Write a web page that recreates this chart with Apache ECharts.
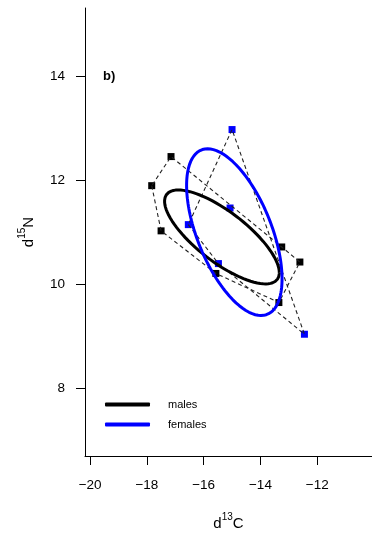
<!DOCTYPE html>
<html>
<head>
<meta charset="utf-8">
<script src="https://cdn.jsdelivr.net/npm/echarts@6/dist/echarts.min.js"></script>
<style>
html,body{margin:0;padding:0;background:#fff;}
#chart{width:372px;height:533px;}
</style>
</head>
<body>
<div id="chart"></div>
<script>
// ---- data ----
var groupNames = ['males', 'females'];
var groupColors = ['#000000', '#0000ff'];
var malesX = [-17.83, -17.15, -17.50, -13.25, -12.61, -15.57, -13.35];
var malesY = [11.90, 12.46, 11.03, 10.72, 10.43, 10.21, 9.65];
var femalesX = [-15.00, -16.54, -15.07, -15.48, -12.45];
var femalesY = [12.98, 11.15, 11.47, 10.40, 9.04];
// standard ellipse parameters (centre, half extent along x and y, correlation)
var ellCX = [-15.356, -14.92];
var ellCY = [10.913, 11.005];
var ellSX = [2.021, 1.681];
var ellSY = [0.904, 1.605];
var ellRho = [-0.76, -0.56];
var xTicks = [-20, -18, -16, -14, -12];
var yTicks = [8, 10, 12, 14];
var panelLabel = 'b)';

// ---- helpers ----
function pairs(xs, ys) { return xs.map(function (x, i) { return [x, ys[i]]; }); }
function hull(pts) {
  var p = pts.slice().sort(function (a, b) { return a[0] - b[0] || a[1] - b[1]; });
  function cross(o, a, b) { return (a[0] - o[0]) * (b[1] - o[1]) - (a[1] - o[1]) * (b[0] - o[0]); }
  var lower = [], upper = [];
  p.forEach(function (q) {
    while (lower.length >= 2 && cross(lower[lower.length - 2], lower[lower.length - 1], q) <= 0) lower.pop();
    lower.push(q);
  });
  p.slice().reverse().forEach(function (q) {
    while (upper.length >= 2 && cross(upper[upper.length - 2], upper[upper.length - 1], q) <= 0) upper.pop();
    upper.push(q);
  });
  upper.pop(); lower.pop();
  var h = lower.concat(upper);
  h.push(h[0]);
  return h;
}
function ellipse(g) {
  var out = [], n = 180, r = ellRho[g], s = Math.sqrt(1 - r * r);
  for (var i = 0; i <= n; i++) {
    var t = 2 * Math.PI * i / n;
    out.push([ellCX[g] + ellSX[g] * Math.cos(t),
              ellCY[g] + ellSY[g] * (r * Math.cos(t) + s * Math.sin(t))]);
  }
  return out;
}
var groupPts = [pairs(malesX, malesY), pairs(femalesX, femalesY)];
var FONT = '"Liberation Sans", Arial, Helvetica, sans-serif';
function minus(v) { return String(v).replace('-', '\u2212'); }

var series = [];
groupPts.forEach(function (pts, g) {
  series.push({
    type: 'scatter', name: groupNames[g] + ' pts', data: pts, symbol: 'rect', symbolSize: 7,
    itemStyle: { color: groupColors[g], opacity: 1 }, z: 2, silent: true
  });
});
groupPts.forEach(function (pts, g) {
  series.push({
    type: 'line', name: groupNames[g] + ' hull', data: hull(pts), showSymbol: false, symbol: 'none',
    lineStyle: { color: '#222', width: 1.1, type: [4, 3] }, z: 3, silent: true
  });
});
groupPts.forEach(function (pts, g) {
  series.push({
    type: 'line', name: groupNames[g], data: ellipse(g), showSymbol: false, symbol: 'none',
    color: groupColors[g], lineStyle: { color: groupColors[g], width: 3 }, z: 4, silent: true
  });
});

var nameRich = {
  a: { fontSize: 15, color: '#000', fontFamily: FONT, verticalAlign: 'bottom', lineHeight: 19 },
  s: { fontSize: 10, color: '#000', fontFamily: FONT, verticalAlign: 'top', lineHeight: 11 }
};

var chart = echarts.init(document.getElementById('chart'), null, { renderer: 'canvas' });
chart.setOption({
  animation: false,
  backgroundColor: '#fff',
  textStyle: { fontFamily: FONT },
  title: { text: panelLabel, left: 103, top: 70, padding: 0, textStyle: { fontSize: 13, fontWeight: 'bold', color: '#000', fontFamily: FONT } },
  legend: {
    data: groupNames, orient: 'vertical', left: 105, top: 399, padding: 0, icon: 'roundRect',
    itemWidth: 45, itemHeight: 4, itemGap: 9,
    textStyle: { fontSize: 11, color: '#000', padding: [0, 0, 0, 13], fontFamily: FONT }
  },
  grid: { left: 85, right: 0, top: 8, bottom: 77, containLabel: false, outerBoundsMode: 'none' },
  xAxis: {
    type: 'value', min: -20.18, max: -10.07,
    name: '{a|d}{s|13}{a|C}', nameLocation: 'middle', nameGap: 56,
    nameTextStyle: { rich: nameRich },
    axisLine: { show: true, onZero: false, lineStyle: { color: '#000', width: 1 } },
    axisTick: { show: true, length: 9, inside: false, customValues: xTicks, lineStyle: { color: '#000' } },
    axisLabel: { customValues: xTicks, fontSize: 13.5, color: '#000', margin: 22, formatter: minus },
    splitLine: { show: false }
  },
  yAxis: {
    type: 'value', min: 6.696, max: 15.32,
    name: '{a|d}{s|15}{a|N}', nameLocation: 'middle', nameGap: 49, nameRotate: 90,
    nameTextStyle: { rich: nameRich },
    axisLine: { show: true, onZero: false, lineStyle: { color: '#000', width: 1 } },
    axisTick: { show: true, length: 9, inside: false, customValues: yTicks, lineStyle: { color: '#000' } },
    axisLabel: { customValues: yTicks, fontSize: 13.5, color: '#000', margin: 20, formatter: minus },
    splitLine: { show: false }
  },
  series: series
});
</script>
</body>
</html>
